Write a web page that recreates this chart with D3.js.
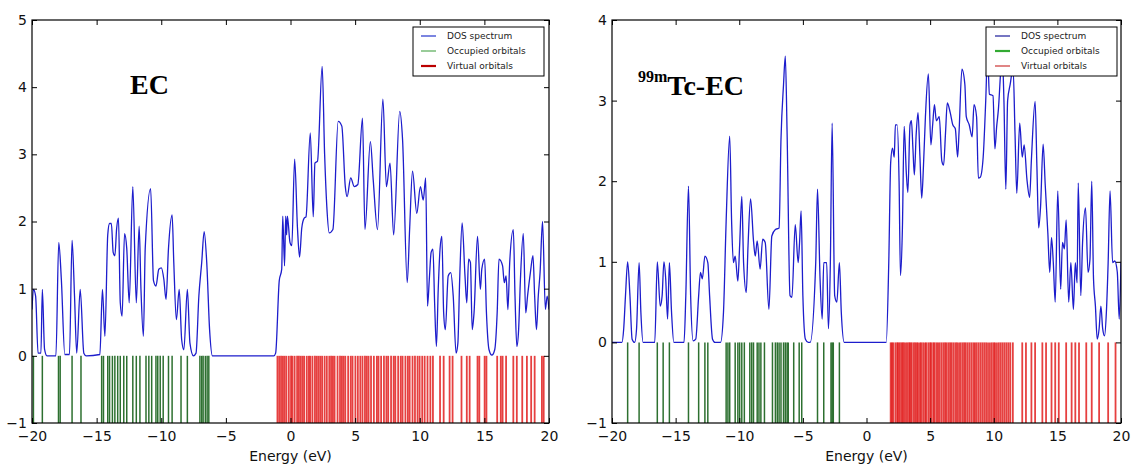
<!DOCTYPE html>
<html>
<head>
<meta charset="utf-8">
<script src="https://cdn.jsdelivr.net/npm/d3@7/dist/d3.min.js"></script>
<style>
  html, body { margin: 0; padding: 0; background: #fff; }
  svg { display: block; }
  .tick text { font-family: "DejaVu Sans", sans-serif; font-size: 14px; fill: #111; }
</style>
</head>
<body>
<svg id="chart" width="1133" height="468"></svg>
<script>
// ---------------- DATA ----------------
const energyTicks = [-20, -15, -10, -5, 0, 5, 10, 15, 20];
const ecYTicks = [-1, 0, 1, 2, 3, 4, 5];
const tcYTicks = [-1, 0, 1, 2, 3, 4];
const legendLabels = ["DOS spectrum", "Occupied orbitals", "Virtual orbitals"];
const xLabel = "Energy (eV)";

// EC: density of states [energy eV, DOS]
const ecDos = [
  [-20.00,0.69],[-19.89,0.99],[-19.72,0.89],[-19.53,0.04],[-19.31,0.04],[-19.20,0.99],[-19.03,0.10],
  [-18.84,0.00],[-18.15,0.00],[-17.93,1.69],[-17.73,1.14],[-17.46,0.02],[-17.10,0.02],[-16.90,1.72],
  [-16.71,0.89],[-16.54,0.04],[-16.27,0.99],[-15.99,0.04],[-15.80,0.00],[-14.75,0.02],[-14.55,0.99],
  [-14.36,0.29],[-14.14,1.80],[-14.00,1.97],[-13.86,1.97],[-13.72,1.54],[-13.59,1.49],[-13.45,1.90],
  [-13.31,2.05],[-13.17,0.79],[-13.03,0.59],[-12.84,1.82],[-12.67,1.60],[-12.48,0.79],[-12.20,2.52],
  [-11.93,0.79],[-11.71,1.93],[-11.57,0.99],[-11.38,0.29],[-11.24,1.60],[-10.82,2.49],[-10.60,1.12],
  [-10.41,1.04],[-10.19,1.29],[-9.99,1.31],[-9.80,1.14],[-9.63,0.84],[-9.44,1.60],[-9.16,2.10],
  [-9.03,1.39],[-8.83,0.54],[-8.61,0.99],[-8.42,0.24],[-8.25,0.09],[-7.98,0.99],[-7.78,0.19],
  [-7.51,0.00],[-7.31,0.04],[-7.09,0.89],[-6.87,1.39],[-6.68,1.85],[-6.48,1.39],[-6.26,0.39],
  [-6.04,0.00],[-1.29,0.00],[-1.15,0.04],[-0.87,1.12],[-0.68,1.29],[-0.60,2.08],[-0.46,1.34],
  [-0.37,2.08],[-0.30,1.80],[-0.24,2.08],[-0.04,1.69],[0.10,1.64],[0.32,2.93],[0.54,1.90],
  [0.70,1.47],[0.87,1.90],[1.06,2.05],[1.20,2.07],[1.53,3.32],[1.76,2.07],[1.89,2.87],[2.09,2.90],
  [2.45,4.31],[2.64,3.00],[2.81,2.22],[3.00,1.83],[3.28,1.88],[3.69,3.49],[3.97,3.42],[4.24,2.52],
  [4.38,2.37],[4.66,2.65],[4.93,2.52],[5.21,2.55],[5.57,3.54],[5.76,1.88],[6.18,3.19],[6.40,2.62],
  [6.73,1.88],[7.15,3.82],[7.42,2.52],[7.70,2.87],[7.98,1.80],[8.45,3.64],[8.67,3.22],[9.03,1.09],
  [9.22,1.90],[9.44,2.75],[9.77,2.12],[10.05,2.52],[10.27,2.32],[10.46,2.65],[10.60,0.74],[10.74,1.14],
  [10.88,1.54],[11.02,1.59],[11.15,0.79],[11.29,0.14],[11.43,0.99],[11.57,1.59],[11.71,1.78],
  [11.85,0.64],[11.98,0.39],[12.20,1.19],[12.40,1.24],[12.59,0.89],[12.81,0.04],[12.95,0.19],
  [13.09,1.14],[13.28,1.98],[13.50,1.19],[13.64,0.79],[13.78,1.44],[13.92,1.39],[14.06,0.39],
  [14.20,0.64],[14.47,1.78],[14.69,0.99],[14.80,1.29],[15.02,1.44],[15.16,0.64],[15.36,0.09],
  [15.58,0.01],[15.80,0.09],[15.99,0.64],[16.13,1.44],[16.41,1.34],[16.54,1.09],[16.68,1.19],
  [16.82,0.69],[16.96,1.39],[17.24,1.88],[17.37,0.89],[17.51,0.14],[17.65,0.39],[17.79,1.14],
  [18.01,1.82],[18.20,0.64],[18.34,0.89],[18.56,1.24],[18.76,1.49],[18.89,0.89],[19.03,0.39],
  [19.17,0.89],[19.31,1.24],[19.50,2.00],[19.72,0.69],[19.86,0.89],[20.00,0.69]
];
const ecOccupied = [
  -19.89,-19.20,-17.95,-17.82,-16.90,-16.21,-14.61,-14.47,-14.14,-14.00,-13.78,-13.59,-13.37,
  -13.17,-12.90,-12.67,-12.20,-11.93,-11.65,-11.18,-10.96,-10.74,-10.41,-10.27,-10.08,-9.85,
  -9.44,-9.16,-8.47,-7.98,-7.01,-6.87,-6.76,-6.59,-6.45,-6.32
];
const ecVirtual = [
  -1.01,-0.87,-0.73,-0.59,-0.46,-0.32,-0.13,0.04,0.15,0.32,0.51,0.65,0.79,0.93,1.06,1.26,1.42,
  1.53,1.70,1.89,2.03,2.17,2.31,2.45,2.64,2.81,3.00,3.14,3.28,3.41,3.64,3.83,3.97,4.10,4.24,4.46,
  4.66,4.80,5.02,5.21,5.40,5.57,5.76,5.90,6.04,6.23,6.45,6.68,6.81,7.01,7.23,7.42,7.56,7.78,7.98,
  8.11,8.33,8.53,8.67,8.89,9.08,9.22,9.44,9.63,9.83,9.99,10.19,10.38,10.60,10.82,11.02,11.57,
  11.85,12.31,12.54,13.23,13.64,13.86,14.47,14.61,15.02,15.16,15.99,16.27,16.41,16.68,17.24,
  17.51,17.93,18.29,18.62,18.89,19.45,19.59
];

// 99mTc-EC: density of states [energy eV, DOS]
const tcDos = [
  [-20.00,0.00],[-19.22,0.00],[-19.08,0.17],[-18.94,0.58],[-18.77,1.00],[-18.59,0.58],[-18.42,0.04],
  [-18.22,0.00],[-18.07,0.17],[-17.87,0.99],[-17.73,0.37],[-17.56,0.00],[-16.64,0.00],[-16.44,1.00],
  [-16.21,0.45],[-16.06,0.58],[-15.92,1.00],[-15.78,0.79],[-15.63,0.29],[-15.49,0.99],[-15.32,0.37],
  [-15.14,0.00],[-14.34,0.00],[-14.20,0.58],[-13.99,1.94],[-13.82,0.58],[-13.62,0.02],[-13.42,0.04],
  [-13.19,0.58],[-13.05,0.87],[-12.90,0.79],[-12.70,1.07],[-12.47,0.99],[-12.33,0.58],[-12.10,0.04],
  [-11.90,0.00],[-11.47,0.00],[-11.24,0.37],[-11.03,1.50],[-10.75,2.56],[-10.60,1.50],[-10.46,0.99],
  [-10.32,1.07],[-10.11,0.76],[-9.97,1.20],[-9.80,1.81],[-9.66,0.99],[-9.45,0.62],[-9.31,1.20],
  [-9.11,1.78],[-8.88,1.26],[-8.74,1.07],[-8.59,1.26],[-8.36,0.91],[-8.16,1.28],[-7.96,1.24],
  [-7.67,0.41],[-7.44,1.32],[-7.16,1.40],[-6.87,1.42],[-6.72,2.52],[-6.52,3.20],[-6.38,3.55],
  [-6.24,2.60],[-6.01,0.58],[-5.86,0.56],[-5.60,1.46],[-5.37,0.99],[-5.26,1.24],[-5.14,1.63],
  [-5.00,0.58],[-4.80,0.04],[-4.57,0.00],[-4.43,0.00],[-3.99,0.99],[-3.85,1.90],[-3.65,0.79],
  [-3.48,0.29],[-3.36,0.99],[-3.13,0.99],[-2.99,0.17],[-2.84,0.99],[-2.70,2.72],[-2.50,0.58],
  [-2.33,0.50],[-2.13,0.99],[-1.98,0.37],[-1.75,0.00],[1.55,0.00],[1.75,0.99],[1.90,2.23],
  [2.04,2.41],[2.18,2.30],[2.27,2.70],[2.41,2.70],[2.56,2.00],[2.67,0.83],[2.82,1.40],[2.96,2.68],
  [3.13,2.10],[3.25,1.86],[3.42,2.70],[3.53,2.75],[3.65,2.40],[3.76,2.08],[3.91,2.60],[4.05,2.85],
  [4.20,2.30],[4.34,1.79],[4.48,2.20],[4.63,2.80],[4.86,3.33],[5.06,2.45],[5.20,2.70],[5.34,2.95],
  [5.49,2.75],[5.72,2.80],[5.92,2.25],[6.06,2.20],[6.21,2.60],[6.35,2.97],[6.58,2.85],[6.78,2.70],
  [6.98,2.65],[7.16,2.30],[7.27,2.60],[7.50,3.39],[7.73,3.20],[7.84,2.80],[8.07,2.70],[8.30,2.55],
  [8.45,2.95],[8.65,2.80],[8.79,2.04],[8.94,2.05],[9.17,2.30],[9.37,3.00],[9.51,3.60],[9.66,3.08],
  [9.94,3.06],[10.09,2.40],[10.23,2.68],[10.37,2.90],[10.52,3.30],[10.66,3.60],[10.80,3.00],
  [10.95,1.90],[11.09,3.00],[11.29,3.20],[11.52,3.40],[11.67,2.60],[11.81,1.85],[12.04,2.72],
  [12.24,2.30],[12.39,2.45],[12.61,2.02],[12.82,1.80],[12.96,2.27],[13.25,2.99],[13.39,2.19],
  [13.53,1.42],[13.68,1.69],[13.88,2.46],[14.05,1.94],[14.25,1.36],[14.40,0.87],[14.54,1.30],
  [14.68,0.99],[14.83,0.50],[15.03,1.88],[15.26,0.66],[15.40,1.24],[15.55,1.16],[15.69,1.52],
  [15.89,0.50],[16.06,0.99],[16.26,0.41],[16.41,0.99],[16.55,0.74],[16.64,1.98],[16.84,0.58],
  [16.98,1.24],[17.21,1.67],[17.41,0.87],[17.56,1.03],[17.70,2.00],[17.84,0.79],[17.99,0.45],
  [18.13,0.04],[18.28,0.17],[18.42,0.45],[18.56,0.17],[18.71,0.08],[18.85,0.37],[18.99,0.99],
  [19.14,1.88],[19.34,0.99],[19.51,1.01],[19.71,0.87],[19.86,0.29],[20.00,1.00]
];
const tcOccupied = [
  -18.77,-17.87,-16.44,-15.98,-15.49,-13.99,-13.19,-12.70,-12.47,-11.03,-10.89,-10.75,-10.32,
  -10.11,-9.97,-9.80,-9.60,-9.17,-9.02,-8.88,-8.59,-8.45,-8.30,-8.02,-7.39,-7.16,-7.01,-6.87,
  -6.72,-6.52,-6.38,-6.24,-6.15,-5.72,-5.29,-5.09,-3.85,-3.36,-2.79,-2.70,-2.61,-2.13
];
const tcVirtual = [
  1.90,2.00,2.10,2.27,2.41,2.50,2.62,2.75,2.85,2.96,3.10,3.22,3.35,3.45,3.55,3.70,3.82,3.95,4.05,
  4.20,4.30,4.45,4.60,4.70,4.86,5.00,5.10,5.25,5.35,5.50,5.62,5.75,5.90,6.05,6.18,6.30,6.45,6.58,
  6.70,6.85,7.00,7.12,7.27,7.40,7.55,7.68,7.80,7.95,8.10,8.25,8.40,8.52,8.65,8.80,8.95,9.10,9.25,
  9.40,9.55,9.70,9.85,10.00,10.10,10.25,10.40,10.55,10.70,10.85,11.00,11.15,11.30,11.50,12.24,
  12.53,12.96,13.25,13.82,14.11,14.54,14.83,15.11,15.69,16.12,16.41,16.70,17.27,17.70,18.28,
  18.99,19.57
];

// ---------------- DRAWING ----------------
const svg = d3.select("#chart");

const panels = [
  { key: "ec", dos: ecDos, occ: ecOccupied, virt: ecVirtual, yTicks: ecYTicks, yMax: 5,
    left: 32, right: 549, top: 20, bottom: 423,
    legend: { x: 413, y: 27, w: 131, h: 49, sx: 421, tx: 447,
      styles: [{c:"#2233cc", w:1.2}, {c:"#55aa55", w:1.2}, {c:"#bb0000", w:2.2}] } },
  { key: "tc", dos: tcDos, occ: tcOccupied, virt: tcVirtual, yTicks: tcYTicks, yMax: 4,
    left: 612, right: 1121, top: 20, bottom: 423,
    legend: { x: 986, y: 27, w: 131, h: 49, sx: 995, tx: 1021,
      styles: [{c:"#1a1a99", w:1.2}, {c:"#33aa33", w:2.2}, {c:"#cc3333", w:1.2}] } }
];

panels.forEach(p => {
  const x = d3.scaleLinear().domain([-20, 20]).range([p.left, p.right]);
  const y = d3.scaleLinear().domain([-1, p.yMax]).range([p.bottom, p.top]);
  const g = svg.append("g");

  const clipId = "clip-" + p.key;
  svg.append("clipPath").attr("id", clipId).append("rect")
    .attr("x", p.left).attr("y", p.top)
    .attr("width", p.right - p.left).attr("height", p.bottom - p.top);

  const plot = g.append("g").attr("clip-path", `url(#${clipId})`);

  // occupied orbitals
  plot.append("g").selectAll("line").data(p.occ).join("line")
    .attr("x1", d => x(d)).attr("x2", d => x(d))
    .attr("y1", y(-1)).attr("y2", y(0))
    .attr("stroke", "#16601a").attr("stroke-width", 1.5).attr("stroke-opacity", 0.9);

  // virtual orbitals
  plot.append("g").selectAll("line").data(p.virt).join("line")
    .attr("x1", d => x(d)).attr("x2", d => x(d))
    .attr("y1", y(-1)).attr("y2", y(0))
    .attr("stroke", "#dd0000").attr("stroke-width", 1.8).attr("stroke-opacity", 0.75);

  // DOS spectrum
  const line = d3.line().x(d => x(d[0])).y(d => y(d[1])).curve(d3.curveMonotoneX);
  plot.append("path").datum(p.dos)
    .attr("d", line).attr("fill", "none")
    .attr("stroke", "#1d1dcc").attr("stroke-width", 1.3);

  // axes (ticks inward on all four sides)
  const fmt = d3.format("d");
  g.append("g").attr("transform", `translate(0,${p.bottom})`)
    .call(d3.axisBottom(x).tickValues(energyTicks).tickFormat(fmt).tickSizeInner(-5).tickSizeOuter(0).tickPadding(8))
    .call(a => a.select(".domain").remove());
  g.append("g").attr("transform", `translate(0,${p.top})`)
    .call(d3.axisTop(x).tickValues(energyTicks).tickFormat("").tickSizeInner(-5).tickSizeOuter(0))
    .call(a => a.select(".domain").remove());
  g.append("g").attr("transform", `translate(${p.left},0)`)
    .call(d3.axisLeft(y).tickValues(p.yTicks).tickFormat(fmt).tickSizeInner(-5).tickSizeOuter(0).tickPadding(5))
    .call(a => a.select(".domain").remove());
  g.append("g").attr("transform", `translate(${p.right},0)`)
    .call(d3.axisRight(y).tickValues(p.yTicks).tickFormat("").tickSizeInner(-5).tickSizeOuter(0))
    .call(a => a.select(".domain").remove());
  g.selectAll(".tick line").attr("stroke", "#000");

  // frame
  g.append("rect").attr("x", p.left).attr("y", p.top)
    .attr("width", p.right - p.left).attr("height", p.bottom - p.top)
    .attr("fill", "none").attr("stroke", "#000").attr("stroke-width", 1.2);

  // x label
  g.append("text").attr("x", (p.left + p.right) / 2).attr("y", 461)
    .attr("text-anchor", "middle")
    .style("font-family", "DejaVu Sans, sans-serif").style("font-size", "14px").attr("fill", "#111")
    .text(xLabel);

  // legend
  const L = p.legend;
  const lg = g.append("g");
  lg.append("rect").attr("x", L.x).attr("y", L.y).attr("width", L.w).attr("height", L.h)
    .attr("fill", "#fff").attr("stroke", "#000").attr("stroke-width", 1);
  legendLabels.forEach((lab, i) => {
    const cy = L.y + 9 + i * 15;
    lg.append("line").attr("x1", L.sx).attr("x2", L.sx + 15).attr("y1", cy).attr("y2", cy)
      .attr("stroke", L.styles[i].c).attr("stroke-width", L.styles[i].w);
    lg.append("text").attr("x", L.tx).attr("y", cy + 3.2)
      .style("font-family", "DejaVu Sans, sans-serif").style("font-size", "9px").attr("fill", "#222")
      .text(lab);
  });
});

// panel titles
svg.append("text").attr("x", 130).attr("y", 94)
  .style("font-family", "Liberation Serif, serif").style("font-weight", "bold").style("font-size", "28px")
  .attr("fill", "#000").text("EC");
const t2 = svg.append("text").attr("x", 638).attr("y", 95)
  .style("font-family", "Liberation Serif, serif").style("font-weight", "bold").attr("fill", "#000");
t2.append("tspan").style("font-size", "16px").attr("dy", "-13").text("99m");
t2.append("tspan").style("font-size", "28px").attr("dy", "13").text("Tc-EC");
</script>
</body>
</html>
